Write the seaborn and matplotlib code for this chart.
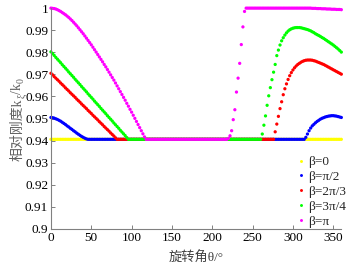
import numpy as np
import pandas as pd
import matplotlib
matplotlib.use("Agg")
import matplotlib.pyplot as plt
import seaborn as sns

# rotation angle grid (degrees), one sample every 2 degrees
theta = np.arange(0, 361, 2)

beta_labels = ["β=0", "β=π/2", "β=2π/3", "β=3π/4", "β=π"]
colors = ["#FFFF00", "#0000FF", "#FF0000", "#00FF00", "#FF00FF"]

k_beta_0 = [
    0.9406, 0.9406, 0.9406, 0.9406, 0.9406, 0.9406, 0.9406, 0.9406, 0.9406, 0.9406,
    0.9406, 0.9406, 0.9406, 0.9406, 0.9406, 0.9406, 0.9406, 0.9406, 0.9406, 0.9406,
    0.9406, 0.9406, 0.9406, 0.9406, 0.9406, 0.9406, 0.9406, 0.9406, 0.9406, 0.9406,
    0.9406, 0.9406, 0.9406, 0.9406, 0.9406, 0.9406, 0.9406, 0.9406, 0.9406, 0.9406,
    0.9406, 0.9406, 0.9406, 0.9406, 0.9406, 0.9406, 0.9406, 0.9406, 0.9406, 0.9406,
    0.9406, 0.9406, 0.9406, 0.9406, 0.9406, 0.9406, 0.9406, 0.9406, 0.9406, 0.9406,
    0.9406, 0.9406, 0.9406, 0.9406, 0.9406, 0.9406, 0.9406, 0.9406, 0.9406, 0.9406,
    0.9406, 0.9406, 0.9406, 0.9406, 0.9406, 0.9406, 0.9406, 0.9406, 0.9406, 0.9406,
    0.9406, 0.9406, 0.9406, 0.9406, 0.9406, 0.9406, 0.9406, 0.9406, 0.9406, 0.9406,
    0.9406, 0.9406, 0.9406, 0.9406, 0.9406, 0.9406, 0.9406, 0.9406, 0.9406, 0.9406,
    0.9406, 0.9406, 0.9406, 0.9406, 0.9406, 0.9406, 0.9406, 0.9406, 0.9406, 0.9406,
    0.9406, 0.9406, 0.9406, 0.9406, 0.9406, 0.9406, 0.9406, 0.9406, 0.9406, 0.9406,
    0.9406, 0.9406, 0.9406, 0.9406, 0.9406, 0.9406, 0.9406, 0.9406, 0.9406, 0.9406,
    0.9406, 0.9406, 0.9406, 0.9406, 0.9406, 0.9406, 0.9406, 0.9406, 0.9406, 0.9406,
    0.9406, 0.9406, 0.9406, 0.9406, 0.9406, 0.9406, 0.9406, 0.9406, 0.9406, 0.9406,
    0.9406, 0.9406, 0.9406, 0.9406, 0.9406, 0.9406, 0.9406, 0.9406, 0.9406, 0.9406,
    0.9406, 0.9406, 0.9406, 0.9406, 0.9406, 0.9406, 0.9406, 0.9406, 0.9406, 0.9406,
    0.9406, 0.9406, 0.9406, 0.9406, 0.9406, 0.9406, 0.9406, 0.9406, 0.9406, 0.9406,
    0.9406,
]

k_beta_pi_2 = [
    0.9505, 0.9504, 0.9502, 0.9499, 0.9496, 0.9492, 0.9488, 0.9483, 0.9478, 0.9473,
    0.9467, 0.9462, 0.9456, 0.9451, 0.9445, 0.9440, 0.9434, 0.9429, 0.9424, 0.9419,
    0.9415, 0.9411, 0.9408, 0.9406, 0.9406, 0.9406, 0.9406, 0.9406, 0.9406, 0.9406,
    0.9406, 0.9406, 0.9406, 0.9406, 0.9406, 0.9406, 0.9406, 0.9406, 0.9406, 0.9406,
    0.9406, 0.9406, 0.9406, 0.9406, 0.9406, 0.9406, 0.9406, 0.9406, 0.9406, 0.9406,
    0.9406, 0.9406, 0.9406, 0.9406, 0.9406, 0.9406, 0.9406, 0.9406, 0.9406, 0.9406,
    0.9406, 0.9406, 0.9406, 0.9406, 0.9406, 0.9406, 0.9406, 0.9406, 0.9406, 0.9406,
    0.9406, 0.9406, 0.9406, 0.9406, 0.9406, 0.9406, 0.9406, 0.9406, 0.9406, 0.9406,
    0.9406, 0.9406, 0.9406, 0.9406, 0.9406, 0.9406, 0.9406, 0.9406, 0.9406, 0.9406,
    0.9406, 0.9406, 0.9406, 0.9406, 0.9406, 0.9406, 0.9406, 0.9406, 0.9406, 0.9406,
    0.9406, 0.9406, 0.9406, 0.9406, 0.9406, 0.9406, 0.9406, 0.9406, 0.9406, 0.9406,
    0.9406, 0.9406, 0.9406, 0.9406, 0.9406, 0.9406, 0.9406, 0.9406, 0.9406, 0.9406,
    0.9406, 0.9406, 0.9406, 0.9406, 0.9406, 0.9406, 0.9406, 0.9406, 0.9406, 0.9406,
    0.9406, 0.9406, 0.9406, 0.9406, 0.9406, 0.9406, 0.9406, 0.9406, 0.9406, 0.9406,
    0.9406, 0.9406, 0.9406, 0.9406, 0.9406, 0.9406, 0.9406, 0.9406, 0.9406, 0.9406,
    0.9406, 0.9406, 0.9406, 0.9406, 0.9406, 0.9406, 0.9406, 0.9406, 0.9415, 0.9430,
    0.9445, 0.9457, 0.9467, 0.9474, 0.9481, 0.9487, 0.9492, 0.9497, 0.9501, 0.9504,
    0.9507, 0.9509, 0.9511, 0.9512, 0.9513, 0.9513, 0.9512, 0.9511, 0.9509, 0.9507,
    0.9505,
]

k_beta_2pi_3 = [
    0.9705, 0.9698, 0.9690, 0.9683, 0.9676, 0.9669, 0.9661, 0.9654, 0.9647, 0.9639,
    0.9632, 0.9625, 0.9617, 0.9610, 0.9603, 0.9596, 0.9588, 0.9581, 0.9574, 0.9566,
    0.9559, 0.9552, 0.9545, 0.9537, 0.9530, 0.9523, 0.9515, 0.9508, 0.9501, 0.9494,
    0.9486, 0.9479, 0.9472, 0.9464, 0.9457, 0.9450, 0.9443, 0.9435, 0.9428, 0.9421,
    0.9413, 0.9406, 0.9406, 0.9406, 0.9406, 0.9406, 0.9406, 0.9406, 0.9406, 0.9406,
    0.9406, 0.9406, 0.9406, 0.9406, 0.9406, 0.9406, 0.9406, 0.9406, 0.9406, 0.9406,
    0.9406, 0.9406, 0.9406, 0.9406, 0.9406, 0.9406, 0.9406, 0.9406, 0.9406, 0.9406,
    0.9406, 0.9406, 0.9406, 0.9406, 0.9406, 0.9406, 0.9406, 0.9406, 0.9406, 0.9406,
    0.9406, 0.9406, 0.9406, 0.9406, 0.9406, 0.9406, 0.9406, 0.9406, 0.9406, 0.9406,
    0.9406, 0.9406, 0.9406, 0.9406, 0.9406, 0.9406, 0.9406, 0.9406, 0.9406, 0.9406,
    0.9406, 0.9406, 0.9406, 0.9406, 0.9406, 0.9406, 0.9406, 0.9406, 0.9406, 0.9406,
    0.9406, 0.9406, 0.9406, 0.9406, 0.9406, 0.9406, 0.9406, 0.9406, 0.9406, 0.9406,
    0.9406, 0.9406, 0.9406, 0.9406, 0.9406, 0.9406, 0.9406, 0.9406, 0.9406, 0.9406,
    0.9406, 0.9406, 0.9406, 0.9406, 0.9406, 0.9406, 0.9406, 0.9406, 0.9406, 0.9440,
    0.9475, 0.9510, 0.9545, 0.9576, 0.9608, 0.9635, 0.9657, 0.9677, 0.9694, 0.9708,
    0.9720, 0.9730, 0.9738, 0.9745, 0.9750, 0.9755, 0.9759, 0.9762, 0.9764, 0.9765,
    0.9765, 0.9765, 0.9764, 0.9762, 0.9760, 0.9757, 0.9754, 0.9751, 0.9748, 0.9745,
    0.9741, 0.9737, 0.9733, 0.9729, 0.9725, 0.9721, 0.9717, 0.9713, 0.9709, 0.9705,
    0.9701,
]

k_beta_3pi_4 = [
    0.9802, 0.9794, 0.9786, 0.9777, 0.9769, 0.9761, 0.9753, 0.9744, 0.9736, 0.9728,
    0.9720, 0.9711, 0.9703, 0.9695, 0.9687, 0.9678, 0.9670, 0.9662, 0.9654, 0.9645,
    0.9637, 0.9629, 0.9621, 0.9612, 0.9604, 0.9596, 0.9588, 0.9579, 0.9571, 0.9563,
    0.9555, 0.9546, 0.9538, 0.9530, 0.9522, 0.9513, 0.9505, 0.9497, 0.9489, 0.9480,
    0.9472, 0.9464, 0.9456, 0.9447, 0.9439, 0.9431, 0.9423, 0.9414, 0.9406, 0.9406,
    0.9406, 0.9406, 0.9406, 0.9406, 0.9406, 0.9406, 0.9406, 0.9406, 0.9406, 0.9406,
    0.9406, 0.9406, 0.9406, 0.9406, 0.9406, 0.9406, 0.9406, 0.9406, 0.9406, 0.9406,
    0.9406, 0.9406, 0.9406, 0.9406, 0.9406, 0.9406, 0.9406, 0.9406, 0.9406, 0.9406,
    0.9406, 0.9406, 0.9406, 0.9406, 0.9406, 0.9406, 0.9406, 0.9406, 0.9406, 0.9406,
    0.9406, 0.9406, 0.9406, 0.9406, 0.9406, 0.9406, 0.9406, 0.9406, 0.9406, 0.9406,
    0.9406, 0.9406, 0.9406, 0.9406, 0.9406, 0.9406, 0.9406, 0.9406, 0.9406, 0.9406,
    0.9406, 0.9406, 0.9406, 0.9406, 0.9406, 0.9406, 0.9406, 0.9406, 0.9406, 0.9406,
    0.9406, 0.9406, 0.9406, 0.9406, 0.9406, 0.9406, 0.9406, 0.9406, 0.9406, 0.9406,
    0.9406, 0.9430, 0.9470, 0.9512, 0.9560, 0.9603, 0.9640, 0.9676, 0.9710, 0.9745,
    0.9785, 0.9810, 0.9833, 0.9852, 0.9866, 0.9878, 0.9888, 0.9896, 0.9902, 0.9906,
    0.9909, 0.9911, 0.9912, 0.9912, 0.9912, 0.9911, 0.9909, 0.9907, 0.9905, 0.9903,
    0.9900, 0.9897, 0.9893, 0.9889, 0.9884, 0.9880, 0.9876, 0.9872, 0.9867, 0.9863,
    0.9858, 0.9853, 0.9848, 0.9843, 0.9838, 0.9833, 0.9827, 0.9821, 0.9815, 0.9808,
    0.9801,
]

k_beta_pi = [
    1.0000, 0.9999, 0.9998, 0.9996, 0.9993, 0.9989, 0.9985, 0.9980, 0.9975, 0.9970,
    0.9964, 0.9958, 0.9951, 0.9944, 0.9936, 0.9928, 0.9920, 0.9911, 0.9902, 0.9893,
    0.9884, 0.9874, 0.9864, 0.9854, 0.9844, 0.9834, 0.9823, 0.9812, 0.9801, 0.9790,
    0.9779, 0.9768, 0.9757, 0.9745, 0.9734, 0.9722, 0.9710, 0.9698, 0.9686, 0.9674,
    0.9661, 0.9648, 0.9635, 0.9622, 0.9609, 0.9596, 0.9583, 0.9569, 0.9556, 0.9542,
    0.9529, 0.9515, 0.9501, 0.9487, 0.9473, 0.9459, 0.9445, 0.9431, 0.9417, 0.9406,
    0.9406, 0.9406, 0.9406, 0.9406, 0.9406, 0.9406, 0.9406, 0.9406, 0.9406, 0.9406,
    0.9406, 0.9406, 0.9406, 0.9406, 0.9406, 0.9406, 0.9406, 0.9406, 0.9406, 0.9406,
    0.9406, 0.9406, 0.9406, 0.9406, 0.9406, 0.9406, 0.9406, 0.9406, 0.9406, 0.9406,
    0.9406, 0.9406, 0.9406, 0.9406, 0.9406, 0.9406, 0.9406, 0.9406, 0.9406, 0.9406,
    0.9406, 0.9406, 0.9406, 0.9406, 0.9406, 0.9406, 0.9406, 0.9406, 0.9406, 0.9406,
    0.9410, 0.9422, 0.9445, 0.9495, 0.9540, 0.9620, 0.9683, 0.9750, 0.9835, 0.9915,
    0.9985, 1.0000, 1.0000, 1.0000, 1.0000, 1.0000, 1.0000, 1.0000, 1.0000, 1.0000,
    1.0000, 1.0000, 1.0000, 1.0000, 1.0000, 1.0000, 1.0000, 1.0000, 1.0000, 1.0000,
    1.0000, 1.0000, 1.0000, 1.0000, 1.0000, 1.0000, 1.0000, 1.0000, 1.0000, 1.0000,
    1.0000, 1.0000, 1.0000, 1.0000, 1.0000, 1.0000, 1.0000, 1.0000, 1.0000, 1.0000,
    1.0000, 1.0000, 0.9999, 0.9999, 0.9999, 0.9998, 0.9998, 0.9998, 0.9997, 0.9997,
    0.9997, 0.9996, 0.9996, 0.9996, 0.9995, 0.9995, 0.9995, 0.9994, 0.9994, 0.9994,
    0.9993,
]

x_ticks = [0, 50, 100, 150, 200, 250, 300, 350]
y_ticks = [0.9, 0.91, 0.92, 0.93, 0.94, 0.95, 0.96, 0.97, 0.98, 0.99, 1.0]
y_tick_labels = ["0.9", "0.91", "0.92", "0.93", "0.94", "0.95", "0.96", "0.97", "0.98", "0.99", "1"]

series = [k_beta_0, k_beta_pi_2, k_beta_2pi_3, k_beta_3pi_4, k_beta_pi]
for s in series:
    assert len(s) == len(theta), len(s)

frames = [pd.DataFrame({"theta": theta, "k": vals, "beta": lab})
          for vals, lab in zip(series, beta_labels)]
df = pd.concat(frames, ignore_index=True)

sns.set_style("ticks")
fam = ["Liberation Serif", "Noto Sans CJK SC"]
plt.rcParams["font.family"] = fam

fig = plt.figure(figsize=(3.49, 2.71), dpi=100)
ax = fig.add_axes([0.146, 0.155, 0.832, 0.815])

sns.scatterplot(data=df, x="theta", y="k", hue="beta", hue_order=beta_labels,
                palette=colors, s=5.5, linewidth=0, marker="o", ax=ax,
                clip_on=False, legend=True)

ax.set_xlim(0, 360)
ax.set_ylim(0.9, 1.0)
ax.set_xticks(x_ticks)
ax.set_yticks(y_ticks)
ax.set_yticklabels(y_tick_labels)

for side in ["top", "right"]:
    ax.spines[side].set_visible(False)
for side in ["left", "bottom"]:
    ax.spines[side].set_color("#808080")
    ax.spines[side].set_linewidth(0.8)
ax.tick_params(direction="in", length=3, width=0.7, color="#808080",
               labelsize=9.5, labelcolor="black", pad=2)

ax.set_xlabel("旋转角θ/°", fontsize=9.5, color="#404040", labelpad=6)
ax.set_ylabel("")

# y label built from pieces so the subscripts render with real fonts
ylab_color = "#606060"
base_x = 21  # baseline position in figure pixels
t1 = fig.text(base_x / 349, 110 / 271, "相对刚度k", rotation=90,
              rotation_mode="anchor", ha="left", va="baseline",
              fontsize=10, color=ylab_color, family=fam)
t2 = ax.annotate("ξ", xy=(base_x + 3, 1.0), xycoords=("figure pixels", t1),
                 rotation=90, rotation_mode="anchor", ha="left", va="baseline",
                 fontsize=7, color=ylab_color, family=fam, annotation_clip=False)
t3 = ax.annotate("/k", xy=(base_x, 1.0), xycoords=("figure pixels", t2),
                 rotation=90, rotation_mode="anchor", ha="left", va="baseline",
                 fontsize=10, color=ylab_color, family=fam, annotation_clip=False)
t4 = ax.annotate("0", xy=(base_x + 3, 1.0), xycoords=("figure pixels", t3),
                 rotation=90, rotation_mode="anchor", ha="left", va="baseline",
                 fontsize=7, color=ylab_color, family=fam, annotation_clip=False)

handles, labels = ax.get_legend_handles_labels()
leg = ax.legend(handles, labels, loc="upper left",
                bbox_to_anchor=(296 / 349, 1 - 156 / 271),
                bbox_transform=fig.transFigure, frameon=False,
                fontsize=9.5, handlelength=0.7, handletextpad=0.25,
                labelspacing=0.2, borderpad=0, borderaxespad=0, markerscale=0.9)

fig.savefig("out.png", dpi=100)
